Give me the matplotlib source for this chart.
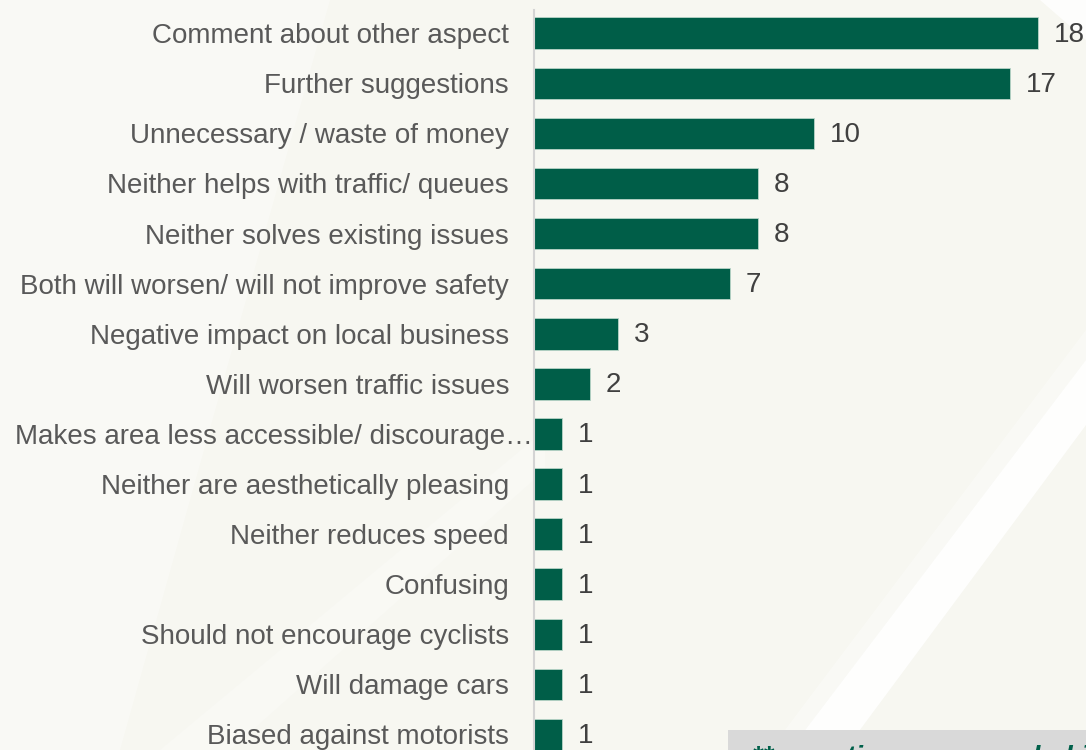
import matplotlib.pyplot as plt
from matplotlib.patches import Polygon, Rectangle
from matplotlib.transforms import ScaledTranslation

# ── Data ───────────────────────────────────────────────────────────────────
categories = [
    "Comment about other aspect",
    "Further suggestions",
    "Unnecessary / waste of money",
    "Neither helps with traffic/ queues",
    "Neither solves existing issues",
    "Both will worsen/ will not improve safety",
    "Negative impact on local business",
    "Will worsen traffic issues",
    "Makes area less accessible/ discourage\u2026",
    "Neither are aesthetically pleasing",
    "Neither reduces speed",
    "Confusing",
    "Should not encourage cyclists",
    "Will damage cars",
    "Biased against motorists",
]
counts = [18, 17, 10, 8, 8, 7, 3, 2, 1, 1, 1, 1, 1, 1, 1]

note = "** questions were coded into multiple themes"

# ── Style ──────────────────────────────────────────────────────────────────
BAR_GREEN = "#005E48"
LABEL_GREY = "#595959"
VALUE_GREY = "#404040"
CREAM = "#F7F7F1"

plt.rcParams["font.family"] = ["Liberation Sans", "DejaVu Sans"]

W, H = 1086, 750
fig = plt.figure(figsize=(W / 100, H / 100), dpi=100, facecolor=CREAM)

# soft white sweeps in the background (figure pixel coords)
bg = fig.add_axes([0, 0, 1, 1], zorder=0)
bg.set_xlim(0, W)
bg.set_ylim(H, 0)
bg.axis("off")
bg.add_patch(Polygon([(0, 0), (330, 0), (120, 750), (0, 750)],
                     closed=True, fc="white", ec="none", alpha=0.3))
bg.add_patch(Polygon([(160, 750), (545, 430), (545, 470), (230, 750)],
                     closed=True, fc="white", ec="none", alpha=0.25))
bg.add_patch(Polygon([(790, 750), (1086, 360), (1086, 425), (845, 750)],
                     closed=True, fc="white", ec="none", alpha=0.9))
bg.add_patch(Polygon([(770, 750), (1086, 330), (1086, 360), (790, 750)],
                     closed=True, fc="white", ec="none", alpha=0.35))
bg.add_patch(Polygon([(1040, 0), (1086, 0), (1086, 40)],
                     closed=True, fc="white", ec="none", alpha=0.8))

# ── Bars ───────────────────────────────────────────────────────────────────
ax = fig.add_axes([534 / W, 0, (W - 534) / W, 1], zorder=1)
ax.patch.set_alpha(0)
ypos = list(range(len(categories)))
ax.barh(ypos, counts, height=0.63, color=BAR_GREEN,
        edgecolor="#B9D4C8", linewidth=0.6)

ax.set_xlim(0, (W - 534) / 28)
ax.set_ylim(14.31, -0.663)

for y, v in zip(ypos, counts):
    ax.text(v + 0.57, y + 0.03, str(v), va="center", ha="left",
            fontsize=20, color=VALUE_GREY)

ax.set_yticks(ypos)
ax.set_yticklabels(categories, fontsize=20, color=LABEL_GREY)
ax.tick_params(axis="y", length=0, pad=18)
ax.set_xticks([])

# the truncated label is too long for the gutter, let it run up to the axis
long_lbl = ax.get_yticklabels()[8]
long_lbl.set_transform(long_lbl.get_transform()
                       + ScaledTranslation(0.24, 0, fig.dpi_scale_trans))

for side in ["top", "right", "bottom"]:
    ax.spines[side].set_visible(False)
ax.spines["left"].set_color("#D4D4D4")
ax.spines["left"].set_linewidth(1.5)
ax.spines["left"].set_bounds(14.31, -0.46)

# ── Footnote box (runs off the bottom edge) ────────────────────────────────
bg.add_patch(Rectangle((728, 730), W - 728, 60, fc="#D9D9D9", ec="none",
                       zorder=5))
fig.text(752 / W, 1 - 745 / H, note, ha="left", va="top", fontsize=20,
         fontweight="bold", fontstyle="italic", color="#00604A", zorder=6)

fig.savefig("out.png", dpi=100, facecolor=CREAM)
